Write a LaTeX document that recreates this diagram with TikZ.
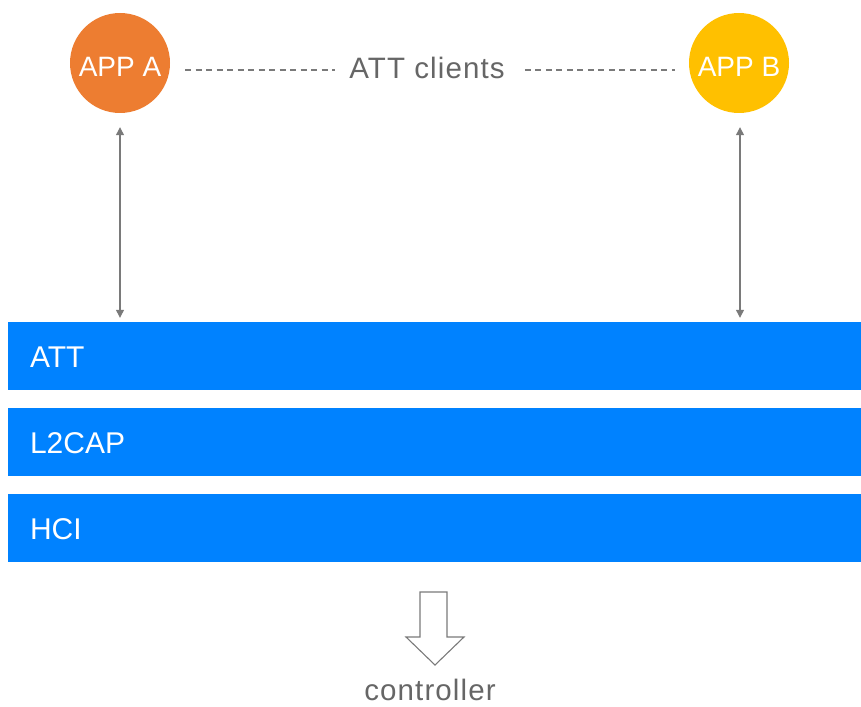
\documentclass[tikz,border=0pt]{standalone}
\usepackage{fontspec}
\setmainfont{Liberation Sans}
\usetikzlibrary{arrows.meta}
\definecolor{appa}{HTML}{ED7D31}
\definecolor{appb}{HTML}{FFC000}
\definecolor{barblue}{HTML}{0082FF}
\definecolor{txtgray}{HTML}{666666}
\definecolor{linegray}{HTML}{7A7A7A}
\tikzset{
  app/.style={circle, minimum size=100pt, inner sep=0pt, text=white, text height=28pt, text depth=0pt, font=\fontsize{28}{32}\selectfont},
  layerbar/.style={rectangle, fill=barblue, minimum height=68pt, text width=809pt, inner xsep=22pt, inner ysep=0pt, align=left, text=white, text height=22pt, text depth=0pt, font=\fontsize{30}{34}\selectfont},
  biarrow/.style={{Triangle[length=8pt,width=8pt]}-{Triangle[length=8pt,width=8pt]}, draw=linegray, fill=linegray, line width=1.2pt},
  dashline/.style={draw=linegray, line width=1.1pt, dash pattern=on 6pt off 4.5pt},
  graytext/.style={text=txtgray, font=\fontsize{29.5}{34}\selectfont\addfontfeature{LetterSpace=3.8}, inner sep=0pt, anchor=base}
}
\begin{document}
\begin{tikzpicture}[x=1pt, y=-1pt]
\useasboundingbox (0,0) rectangle (861,706);
\node[app, fill=appa] (A) at (120,63) {APP A};
\node[app, fill=appb] (B) at (739,63) {APP B};
\node[graytext] (clients) at (427,79) {ATT clients};
\draw[dashline, shorten <=15pt, shorten >=14pt] (A.east |- 0,70) -- (clients.west |- 0,70);
\draw[dashline, shorten <=20pt, shorten >=14pt] (clients.east |- 0,70) -- (B.west |- 0,70);
\node[layerbar] (att) at (434.5,356) {ATT};
\node[layerbar] (l2cap) at (434.5,442) {L2CAP};
\node[layerbar] (hci) at (434.5,528) {HCI};
\draw[biarrow, shorten <=14pt, shorten >=4pt] (A.south -| 120,0) -- (att.north -| 120,0);
\draw[biarrow, shorten <=14pt, shorten >=4pt] (B.south -| 740,0) -- (att.north -| 740,0);
\draw[draw=linegray, line width=1.1pt, line join=miter] (420,592) -- (447,592) -- (447,637) -- (464,637) -- (435,665) -- (406,637) -- (420,637) -- cycle;
\node[graytext] (ctrl) at (430,700) {controller};
\end{tikzpicture}
\end{document}
